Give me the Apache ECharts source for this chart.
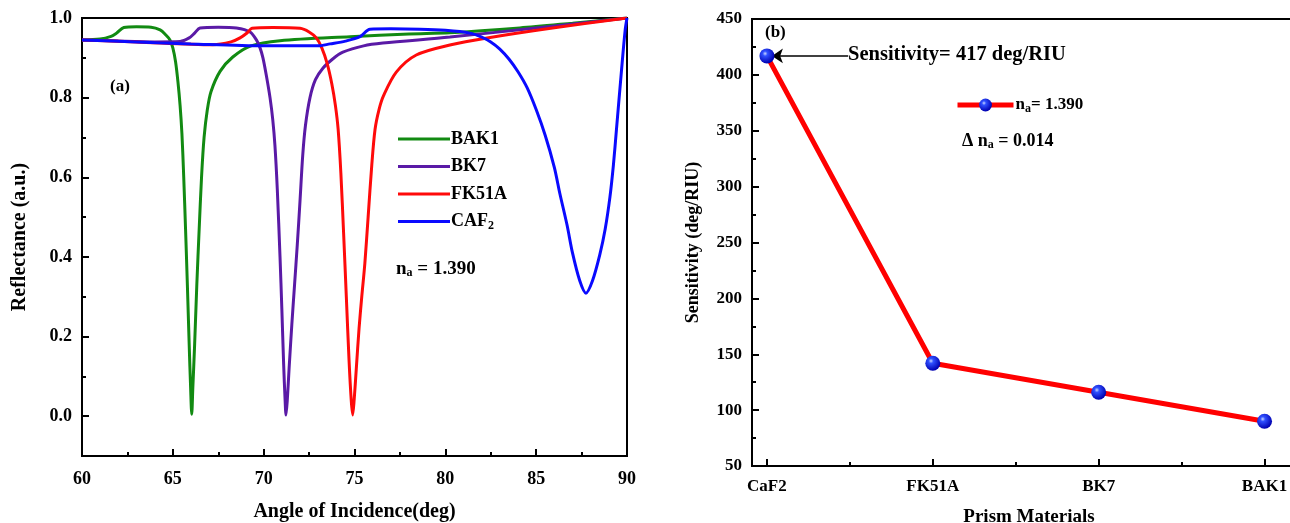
<!DOCTYPE html>
<html>
<head>
<meta charset="utf-8">
<title>SPR reflectance and sensitivity</title>
<style>
html, body { margin: 0; padding: 0; background: #fff; }
#chart { width: 1290px; height: 523px; }
</style>
</head>
<body>
<div id="chart"></div>
<script src="https://cdn.jsdelivr.net/npm/echarts@6/dist/echarts.min.js"></script>
<script>
// (a) reflectance vs angle of incidence [angle, R]
var bak1 = [[60,0.945],[61,0.947],[61.6,0.954],[61.9,0.962],[62.3,0.976],[63,0.978],[63.8,0.977],[64.3,0.97],[64.6,0.958],
  [64.84,0.945],[65.0,0.925],[65.15,0.89],[65.28,0.84],[65.4,0.78],[65.5,0.71],[65.6,0.6],[65.7,0.47],[65.8,0.33],
  [65.9,0.18],[65.98,0.07],[66.04,0.005],[66.1,0.07],[66.2,0.18],[66.32,0.33],[66.45,0.47],[66.58,0.6],[66.72,0.7],
  [66.9,0.77],[67.1,0.815],[67.6,0.866],[68.3,0.902],[69.3,0.93],[70.9,0.943],[74.75,0.953],[78,0.96],
  [80.25,0.963],[84.1,0.975],[87,0.987],[90,1.0]];
var bk7 = [[60,0.945],[62,0.942],[64,0.94],[65.4,0.941],[65.9,0.95],[66.2,0.962],[66.5,0.975],[67.5,0.977],[68.5,0.975],
  [69.25,0.965],[69.6,0.945],[69.8,0.925],[69.96,0.9],[70.15,0.855],[70.35,0.8],[70.5,0.745],[70.62,0.68],[70.75,0.57],
  [70.9,0.4],[71.0,0.27],[71.1,0.13],[71.18,0.04],[71.23,0.003],[71.3,0.04],[71.4,0.12],[71.55,0.23],[71.7,0.33],
  [71.85,0.43],[72.0,0.54],[72.15,0.655],[72.3,0.73],[72.55,0.8],[72.85,0.845],[73.26,0.874],[73.8,0.897],[74.36,0.914],
  [75.5,0.93],[76.56,0.937],[80.25,0.952],[85,0.975],[90,1.0]];
var fk51a = [[60,0.945],[63,0.94],[67.2,0.933],[68.2,0.94],[68.7,0.95],[69.1,0.963],[69.36,0.974],[70.5,0.976],[72,0.974],
  [72.5,0.965],[72.9,0.95],[73.2,0.925],[73.5,0.885],[73.75,0.835],[73.95,0.78],[74.1,0.72],[74.25,0.61],[74.4,0.46],
  [74.55,0.3],[74.7,0.14],[74.82,0.04],[74.9,0.003],[74.98,0.04],[75.1,0.12],[75.25,0.22],[75.4,0.3],[75.57,0.384],
  [75.75,0.5],[75.95,0.63],[76.13,0.72],[76.35,0.77],[76.6,0.805],[77.3,0.864],[78.4,0.907],[80.25,0.932],[82.3,0.95],
  [85.9,0.975],[90,1.0]];
var caf2 = [[60,0.945],[63,0.94],[66,0.935],[70,0.93],[73,0.93],[73.65,0.935],[74.5,0.942],[75.3,0.953],[75.85,0.972],
  [77,0.973],[78.6,0.972],[80,0.969],[81.35,0.962],[82.0,0.952],[82.5,0.94],[83.0,0.922],[83.5,0.897],[84.0,0.865],
  [84.5,0.825],[85.0,0.77],[85.5,0.705],[86.0,0.625],[86.3,0.56],[86.7,0.48],[87.0,0.41],[87.4,0.34],[87.74,0.309],
  [88.1,0.34],[88.5,0.405],[88.8,0.47],[89.06,0.55],[89.25,0.63],[89.42,0.72],[89.7,0.87],[89.9,0.97],[90,1.0]];

// (b) sensitivity per prism material
var materials = ['CaF2', 'FK51A', 'BK7', 'BAK1'];
var sensitivity = [417, 142, 116, 90];

var xTicksA = [60, 65, 70, 75, 80, 85, 90];
var xMinorA = [62.5, 67.5, 72.5, 77.5, 82.5, 87.5];
var yTicksA = [0, 0.2, 0.4, 0.6, 0.8, 1.0];
var yMinorA = [0.1, 0.3, 0.5, 0.7, 0.9];
var yTicksB = [50, 100, 150, 200, 250, 300, 350, 400, 450];
var yMinorB = [75, 125, 175, 225, 275, 325, 375, 425];

var FONT = 'Liberation Serif';
var txt = { fontFamily: FONT, fontWeight: 'bold', color: '#000' };
function subRich(size) {
    return { b: { fontFamily: FONT, fontWeight: 'bold', fontSize: size, color: '#000', lineHeight: 20 },
             s: { fontFamily: FONT, fontWeight: 'bold', fontSize: 12, color: '#000', verticalAlign: 'bottom', padding: [8, 0, 0, 0], lineHeight: 20 } };
}

var dom = document.getElementById('chart');
var myChart = echarts.init(dom);

// value axis that only draws inward ticks at the given values
function tickAxis(grid, pos, vals, len, mn, mx, extra) {
    var ax = {
        type: 'value', gridIndex: grid, min: mn, max: mx, position: pos,
        axisLine: { show: false, onZero: false },
        splitLine: { show: false },
        axisLabel: { show: false },
        axisTick: { show: true, inside: true, length: len, customValues: vals, lineStyle: { color: '#000', width: 2 } }
    };
    return Object.assign(ax, extra || {});
}

var ballColor = {
    type: 'radial', x: 0.38, y: 0.35, r: 0.65,
    colorStops: [{ offset: 0, color: '#c9d6ff' }, { offset: 0.25, color: '#3050ff' }, { offset: 1, color: '#0000b0' }]
};

var curveStyle = function (c) {
    return { type: 'line', xAxisIndex: 0, yAxisIndex: 0, showSymbol: false, symbol: 'none',
             smooth: 0.3, lineStyle: { color: c, width: 3 }, itemStyle: { color: c } };
};

var labelStyle = { show: true, fontSize: 17, fontFamily: FONT, fontWeight: 'bold', color: '#000' };

option = {
    animation: false,
    backgroundColor: '#fff',
    grid: [
        { left: 82, top: 18, width: 545, height: 438, show: true, borderColor: '#000', borderWidth: 2, outerBoundsMode: 'none' },
        { left: 752, top: 19, width: 554, height: 447, show: true, borderColor: '#000', borderWidth: 2, outerBoundsMode: 'none' }
    ],
    xAxis: [
        tickAxis(0, 'bottom', xTicksA, 7, 60, 90, {
            axisLine: { show: true, onZero: false, lineStyle: { color: '#000', width: 2 } },
            axisLabel: Object.assign({ customValues: xTicksA, margin: 14 }, labelStyle, { fontSize: 18 }),
            name: 'Angle of Incidence(deg)', nameLocation: 'middle', nameGap: 46,
            nameTextStyle: Object.assign({ fontSize: 20 }, txt)
        }),
        tickAxis(0, 'bottom', xMinorA, 4, 60, 90),
        tickAxis(1, 'bottom', [1, 2, 3, 4], 7, 0.91, 4.25, {
            axisLine: { show: true, onZero: false, lineStyle: { color: '#000', width: 2 } },
            axisLabel: Object.assign({ customValues: [1, 2, 3, 4], margin: 12,
                         formatter: function (v) { return materials[Math.round(v) - 1]; } }, labelStyle),
            name: 'Prism Materials', nameLocation: 'middle', nameGap: 42,
            nameTextStyle: Object.assign({ fontSize: 19 }, txt)
        }),
        tickAxis(1, 'bottom', [1.5, 2.5, 3.5], 4, 0.91, 4.25)
    ],
    yAxis: [
        tickAxis(0, 'left', yTicksA, 7, -0.1, 1.0, {
            axisLine: { show: true, onZero: false, lineStyle: { color: '#000', width: 2 } },
            axisLabel: Object.assign({ customValues: yTicksA, margin: 10,
                         formatter: function (v) { return v.toFixed(1); } }, labelStyle, { fontSize: 18 }),
            name: 'Reflectance (a.u.)', nameLocation: 'middle', nameGap: 52,
            nameTextStyle: Object.assign({ fontSize: 20 }, txt)
        }),
        tickAxis(0, 'left', yMinorA, 4, -0.1, 1.0),
        tickAxis(1, 'left', yTicksB, 7, 50, 450, {
            axisLine: { show: true, onZero: false, lineStyle: { color: '#000', width: 2 } },
            axisLabel: Object.assign({ customValues: yTicksB, margin: 10 }, labelStyle),
            name: 'Sensitivity (deg/RIU)', nameLocation: 'middle', nameGap: 50,
            nameTextStyle: Object.assign({ fontSize: 18 }, txt)
        }),
        tickAxis(1, 'left', yMinorB, 4, 50, 450)
    ],
    legend: [
        {
            orient: 'vertical', left: 393, top: 124, itemWidth: 52, itemHeight: 3, itemGap: 7.5,
            icon: 'rect',
            data: ['BAK1', 'BK7', 'FK51A', 'CAF2'],
            formatter: function (n) { return n === 'CAF2' ? '{b|CAF}{s|2}' : '{b|' + n + '}'; },
            textStyle: { rich: subRich(18), lineHeight: 20, padding: [0, 0, 0, -4] }
        },
        {
            left: 950, top: 90, itemWidth: 56, itemHeight: 16,
            data: ['na'],
            lineStyle: { width: 5, color: '#ff0000' },
            formatter: function () { return '{b|n}{s|a}{b|= 1.390}'; },
            textStyle: { rich: subRich(17), padding: [0, 0, 0, -3] }
        }
    ],
    graphic: [
        { type: 'text', left: 110, top: 78, style: Object.assign({ text: '(a)', fontSize: 17 }, txt) },
        { type: 'text', left: 396, top: 259, style: { text: '{b|n}{s|a}{b| = 1.390}', rich: subRich(19) } },
        { type: 'text', left: 765, top: 24, style: Object.assign({ text: '(b)', fontSize: 17 }, txt) },
        { type: 'text', left: 848, top: 44, style: Object.assign({ text: 'Sensitivity= 417 deg/RIU', fontSize: 20.5 }, txt) },
        { type: 'text', left: 962, top: 131, style: { text: '{b|\u0394 n}{s|a}{b| = 0.014}', rich: subRich(18) } }
    ],
    series: [
        Object.assign(curveStyle('#128a12'), { name: 'BAK1', data: bak1 }),
        Object.assign(curveStyle('#5a1aa6'), { name: 'BK7', data: bk7 }),
        Object.assign(curveStyle('#ff0a0a'), { name: 'FK51A', data: fk51a }),
        Object.assign(curveStyle('#0a0aff'), { name: 'CAF2', data: caf2 }),
        {
            name: 'na', type: 'line', xAxisIndex: 2, yAxisIndex: 2,
            data: sensitivity.map(function (v, i) { return [i + 1, v]; }),
            symbol: 'circle', symbolSize: 15, showSymbol: true,
            lineStyle: { color: '#ff0000', width: 5 },
            itemStyle: { color: ballColor, borderWidth: 0 },
            z: 5
        },
        {
            // arrow pointing at the CaF2 point
            type: 'line', xAxisIndex: 2, yAxisIndex: 2, data: [], z: 8,
            markLine: {
                silent: true, symbol: ['none', 'arrow'], symbolSize: 11,
                lineStyle: { color: '#000', width: 1.5, type: 'solid' },
                label: { show: false },
                data: [[{ coord: [1.49, 417] }, { coord: [1.03, 417] }]]
            }
        }
    ]
};

myChart.setOption(option);
</script>
</body>
</html>
